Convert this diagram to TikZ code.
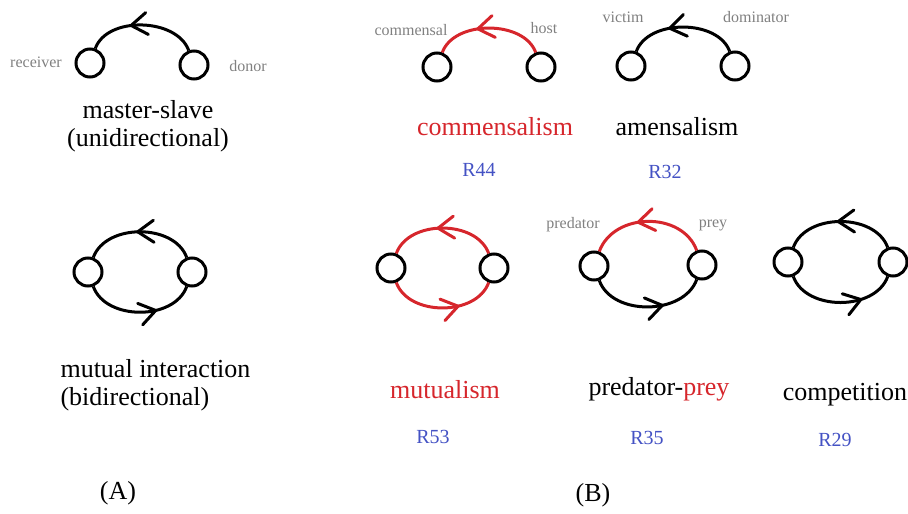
\documentclass[tikz,border=0pt]{standalone}
\usepackage{fontspec}
\setmainfont{Liberation Serif}
\usetikzlibrary{decorations.markings}
\definecolor{rolegray}{RGB}{128,128,128}
\definecolor{relred}{RGB}{214,38,44}
\definecolor{codeblue}{RGB}{68,82,196}
\begin{document}
\begin{tikzpicture}[x=1pt,y=1pt,
  species/.style={circle,draw=black,line width=3pt,minimum size=28pt,inner sep=0pt},
  tie/.style={line width=3pt},
  % open chevron drawn along the path, pointing forward
  barbat/.style={postaction={decorate,decoration={markings,
      mark=at position #1 with {\draw[line width=3pt,line cap=round,line join=miter]
        (-16pt,11pt) -- (0pt,0pt) -- (-16pt,-11pt);}}}},
  rolelabel/.style={text=rolegray,font=\fontsize{16}{18}\selectfont},
  maintext/.style={font=\fontsize{26}{28}\selectfont},
  refcode/.style={text=codeblue,font=\fontsize{20}{22}\selectfont},
]
\path[use as bounding box] (0,0) rectangle (908,-514);

% ---------- (A) master-slave ----------
\node[species] (r1) at (90,-63) {};
\node[species] (d1) at (194,-65) {};
\draw[tie,barbat=0.6] (d1.110) to[out=110,in=70,looseness=0.95] (r1.70);
\node[rolelabel] (receiver) at (36,-62) {receiver};
\node[rolelabel] (donor) at (248,-66) {donor};
\node[maintext,align=center] (ms) at (148,-126) {master-slave\\(unidirectional)};

% ---------- (A) mutual interaction ----------
\node[species] (a1) at (88,-272) {};
\node[species] (b1) at (192,-272) {};
\draw[tie,barbat=0.52] (b1.110) to[out=110,in=70] (a1.70);
\draw[tie,barbat=0.64] (a1.-70) to[out=-70,in=-110] (b1.-110);
\node[maintext,align=left,anchor=west] (mi) at (57,-385) {mutual interaction\\(bidirectional)};

% ---------- (B) commensalism ----------
\node[species] (c1) at (437,-67) {};
\node[species] (h1) at (541,-67) {};
\draw[tie,draw=relred,barbat=0.6] (h1.110) to[out=110,in=70,looseness=0.95] (c1.70);
\node[rolelabel] (commensal) at (411,-30) {commensal};
\node[rolelabel] (host) at (544,-28) {host};
\node[maintext,text=relred] (comm) at (495,-127) {commensalism};
\node[refcode] (r44) at (479,-170) {R44};

% ---------- (B) amensalism ----------
\node[species] (v1) at (631,-66) {};
\node[species] (m1) at (735,-66) {};
\draw[tie,barbat=0.62] (m1.110) to[out=110,in=70,looseness=0.95] (v1.70);
\node[rolelabel] (victim) at (623,-17) {victim};
\node[rolelabel] (dominator) at (756,-17) {dominator};
\node[maintext] (amen) at (677,-127) {amensalism};
\node[refcode] (r32) at (665,-172) {R32};

% ---------- (B) mutualism ----------
\node[species] (a2) at (391,-268) {};
\node[species] (b2) at (494,-268) {};
\draw[tie,draw=relred,barbat=0.54] (b2.110) to[out=110,in=70] (a2.70);
\draw[tie,draw=relred,barbat=0.64] (a2.-70) to[out=-70,in=-110] (b2.-110);
\node[maintext,text=relred] (mutu) at (445,-390) {mutualism};
\node[refcode] (r53) at (433,-437) {R53};

% ---------- (B) predator-prey ----------
\node[species] (p1) at (594,-266) {};
\node[species] (q1) at (702,-265) {};
\draw[tie,draw=relred,barbat=0.58] (q1.110) to[out=110,in=70,looseness=1.1] (p1.70);
\draw[tie,barbat=0.62] (p1.-70) to[out=-70,in=-110] (q1.-110);
\node[rolelabel] (predator) at (573,-225) {predator};
\node[rolelabel] (prey) at (713,-225) {prey};
\node[maintext] (pp) at (659,-389) {predator-\textcolor{relred}{prey}};
\node[refcode] (r35) at (647,-438) {R35};

% ---------- (B) competition ----------
\node[species] (a3) at (788,-262) {};
\node[species] (b3) at (893,-262) {};
\draw[tie,barbat=0.52] (b3.110) to[out=110,in=70] (a3.70);
\draw[tie,barbat=0.68] (a3.-70) to[out=-70,in=-110] (b3.-110);
\node[maintext] (comp) at (845,-395) {competition};
\node[refcode] (r29) at (835,-440) {R29};

% ---------- panel tags ----------
\node[maintext] (tagA) at (118,-493) {(A)};
\node[maintext] (tagB) at (593,-495) {(B)};
\end{tikzpicture}
\end{document}
